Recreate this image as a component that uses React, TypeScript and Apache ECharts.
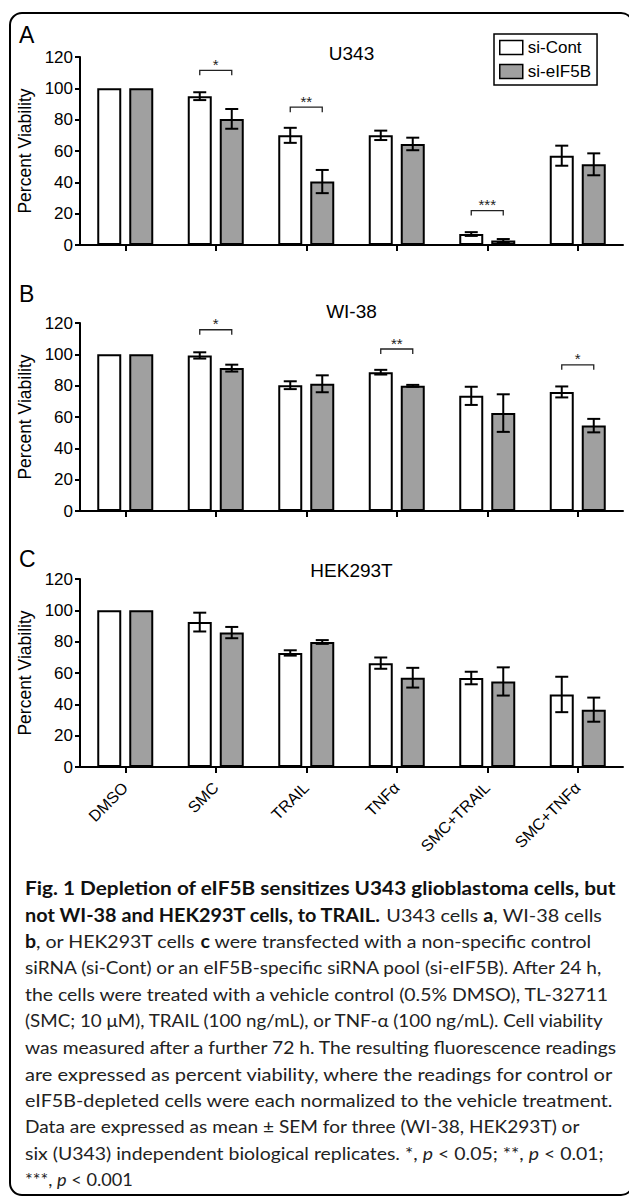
import React, { useEffect, useRef } from "react";
import * as echarts from "echarts";

// ---------- data ----------
const categories = ["DMSO", "SMC", "TRAIL", "TNFα", "SMC+TRAIL", "SMC+TNFα"];
const yTicks = [0, 20, 40, 60, 80, 100, 120];
const seriesNames = ["si-Cont", "si-eIF5B"];
const panelTitles = ["U343", "WI-38", "HEK293T"];
const panelLetters = ["A", "B", "C"];

// Panel A: U343
const u343Cont = [100, 95, 70, 70, 7, 57];
const u343ContSem = [0, 2.5, 4.8, 3, 1.2, 6.4];
const u343Eif = [100, 80.5, 40.5, 64.5, 2.8, 51.5];
const u343EifSem = [0, 6.3, 7.4, 4, 1, 7];
const u343Sig = [
  { cat: 1, y: 111.5, label: "*" },
  { cat: 2, y: 88, label: "**" },
  { cat: 4, y: 22, label: "***" },
];

// Panel B: WI-38
const wi38Cont = [100, 99.3, 80.3, 88.6, 73.5, 76];
const wi38ContSem = [0, 2, 2.5, 1.5, 5.8, 3.5];
const wi38Eif = [100, 91.2, 81.2, 79.9, 62.5, 54.5];
const wi38EifSem = [0, 2.2, 5.4, 0.6, 12, 4.3];
const wi38Sig = [
  { cat: 1, y: 115.7, label: "*" },
  { cat: 3, y: 103.4, label: "**" },
  { cat: 5, y: 93.3, label: "*" },
];

// Panel C: HEK293T
const hekCont = [100, 92.5, 72.8, 66.3, 56.8, 46.3];
const hekContSem = [0, 6, 1.7, 3.6, 4, 11.3];
const hekEif = [100, 85.8, 79.8, 57, 54.6, 36.6];
const hekEifSem = [0, 3.6, 1.2, 6.3, 9, 7.7];
const hekSig: { cat: number; y: number; label: string }[] = [];

// Caption (segments: b = bold, r = regular, i = italic)
const captionLines: [string, string][][] = [
  [["b", "Fig. 1 Depletion of eIF5B sensitizes U343 glioblastoma cells, but"]],
  [["b", "not WI-38 and HEK293T cells, to TRAIL."], ["r", " U343 cells "], ["b", "a"], ["r", ", WI-38 cells"]],
  [["b", "b"], ["r", ", or HEK293T cells "], ["b", "c"], ["r", " were transfected with a non-specific control"]],
  [["r", "siRNA (si-Cont) or an eIF5B-specific siRNA pool (si-eIF5B). After 24 h,"]],
  [["r", "the cells were treated with a vehicle control (0.5% DMSO), TL-32711"]],
  [["r", "(SMC; 10 μM), TRAIL (100 ng/mL), or TNF-α (100 ng/mL). Cell viability"]],
  [["r", "was measured after a further 72 h. The resulting fluorescence readings"]],
  [["r", "are expressed as percent viability, where the readings for control or"]],
  [["r", "eIF5B-depleted cells were each normalized to the vehicle treatment."]],
  [["r", "Data are expressed as mean ± SEM for three (WI-38, HEK293T) or"]],
  [["r", "six (U343) independent biological replicates. *, "], ["i", "p"], ["r", " < 0.05; **, "], ["i", "p"], ["r", " < 0.01;"]],
  [["r", "***, "], ["i", "p"], ["r", " < 0.001"]],
];
// right end (px) of each caption line in the figure
const captionLineEnds = [616, 602, 592, 604, 610, 606, 618, 614, 614, 580, 604, 133];

const panels = [
  { cont: u343Cont, contSem: u343ContSem, eif: u343Eif, eifSem: u343EifSem, sig: u343Sig },
  { cont: wi38Cont, contSem: wi38ContSem, eif: wi38Eif, eifSem: wi38EifSem, sig: wi38Sig },
  { cont: hekCont, contSem: hekContSem, eif: hekEif, eifSem: hekEifSem, sig: hekSig },
];

// ---------- layout ----------
const W = 629;
const H = 1197;
const FONT = "'Liberation Sans', Arial, sans-serif";
const CAP_FONT = "Lato, 'Noto Sans', sans-serif";
const gridTops = [57, 323, 579];
const letterY = [35, 294, 559];
const titleY = [55, 313, 572];
const GRID_LEFT = 80;
const GRID_W = 543;
const GRID_H = 188;
const BAR_W = 24;
const BAR_GAP_PX = 8;
const OFFSET = (BAR_W + BAR_GAP_PX) / 2;
const GRAY = "#a0a0a0";
const CAP_X = 25;

function measure(text: string, font: string): number {
  const c = document.createElement("canvas").getContext("2d");
  if (!c) return text.length * 9;
  c.font = font;
  return c.measureText(text).width;
}

function buildCaption() {
  const size = 18;
  const fontOf = (k: string) =>
    (k === "b" ? "bold " : k === "i" ? "italic " : "") + size + "px Lato";
  return captionLines.map((line, i) => {
    let w = 0;
    line.forEach(([k, t]) => {
      w += measure(t, fontOf(k));
    });
    const s = w > 0 ? (captionLineEnds[i] - CAP_X) / w : 1;
    return {
      type: "text",
      x: CAP_X,
      y: 888 + i * 26.5,
      scaleX: Math.min(1.3, Math.max(0.7, s)),
      style: {
        text: line.map(([k, t]) => `{${k}|${t}}`).join(""),
        verticalAlign: "middle",
        align: "left",
        rich: {
          b: { fontFamily: CAP_FONT, fontSize: size, fontWeight: "bold", fill: "#111" },
          r: { fontFamily: CAP_FONT, fontSize: size, fontWeight: "normal", fill: "#222" },
          i: { fontFamily: CAP_FONT, fontSize: size, fontStyle: "italic", fill: "#222" },
        },
      },
    };
  });
}

function errorSeries(gi: number, means: number[], sems: number[], dir: number) {
  const data = means
    .map((m, j) => [j, m, sems[j]])
    .filter((d) => d[2] > 0);
  return {
    type: "custom",
    xAxisIndex: gi,
    yAxisIndex: gi,
    z: 5,
    silent: true,
    data,
    renderItem: (params: any, api: any) => {
      const c = api.value(0);
      const m = api.value(1);
      const s = api.value(2);
      const x = api.coord([c, m])[0] + dir * OFFSET;
      const yT = api.coord([c, m + s])[1];
      const yB = api.coord([c, m - s])[1];
      const cap = 6.5;
      const st = { stroke: "#000", lineWidth: 2 };
      return {
        type: "group",
        children: [
          { type: "line", shape: { x1: x, y1: yT, x2: x, y2: yB }, style: st },
          { type: "line", shape: { x1: x - cap, y1: yT, x2: x + cap, y2: yT }, style: st },
          { type: "line", shape: { x1: x - cap, y1: yB, x2: x + cap, y2: yB }, style: st },
        ],
      };
    },
  };
}

function sigSeries(gi: number, sig: { cat: number; y: number; label: string }[]) {
  return {
    type: "custom",
    xAxisIndex: gi,
    yAxisIndex: gi,
    z: 6,
    silent: true,
    data: sig.map((s) => [s.cat, s.y, s.label]),
    renderItem: (params: any, api: any) => {
      const d = sig[params.dataIndex];
      const p = api.coord([d.cat, d.y]);
      const x1 = p[0] - OFFSET;
      const x2 = p[0] + OFFSET;
      const y = p[1];
      const depth = 5;
      return {
        type: "group",
        children: [
          {
            type: "polyline",
            shape: { points: [[x1, y + depth], [x1, y], [x2, y], [x2, y + depth]] },
            style: { stroke: "#222", lineWidth: 1.3, fill: "none" },
          },
          {
            type: "text",
            style: {
              text: d.label,
              x: p[0],
              y: y - 6,
              align: "center",
              verticalAlign: "middle",
              fontSize: 15,
              fontFamily: FONT,
              fill: "#222",
            },
          },
        ],
      };
    },
  };
}

function buildOption() {
  const grid = gridTops.map((t) => ({ left: GRID_LEFT, top: t, width: GRID_W, height: GRID_H }));
  const xAxis = gridTops.map((_, i) => ({
    type: "category",
    gridIndex: i,
    data: categories,
    axisLine: { show: true, lineStyle: { color: "#000", width: 2 } },
    axisTick: { show: true, alignWithLabel: true, length: 6, lineStyle: { color: "#000", width: 2 } },
    axisLabel: {
      show: i === 2,
      rotate: 45,
      interval: 0,
      margin: 18,
      fontSize: 16,
      fontFamily: FONT,
      color: "#000",
    },
    splitLine: { show: false },
  }));
  const yAxis = gridTops.map((_, i) => ({
    type: "value",
    gridIndex: i,
    min: yTicks[0],
    max: yTicks[yTicks.length - 1],
    interval: yTicks[1] - yTicks[0],
    name: "Percent Viability",
    nameLocation: "middle",
    nameGap: 41,
    nameTextStyle: { fontSize: 17.5, fontFamily: FONT, color: "#000" },
    axisLine: { show: true, lineStyle: { color: "#000", width: 2 } },
    axisTick: { show: true, length: 5, lineStyle: { color: "#000", width: 2 } },
    axisLabel: { fontSize: 17, fontFamily: FONT, color: "#000", margin: 7 },
    splitLine: { show: false },
  }));
  const series: any[] = [];
  panels.forEach((p, i) => {
    series.push({
      type: "bar",
      name: seriesNames[0],
      xAxisIndex: i,
      yAxisIndex: i,
      data: p.cont,
      barWidth: BAR_W,
      barGap: (BAR_GAP_PX / BAR_W) * 100 + "%",
      itemStyle: { color: "#fff", borderColor: "#000", borderWidth: 2 },
      silent: true,
    });
    series.push({
      type: "bar",
      name: seriesNames[1],
      xAxisIndex: i,
      yAxisIndex: i,
      data: p.eif,
      barWidth: BAR_W,
      barGap: (BAR_GAP_PX / BAR_W) * 100 + "%",
      itemStyle: { color: GRAY, borderColor: "#000", borderWidth: 2 },
      silent: true,
    });
    series.push(errorSeries(i, p.cont, p.contSem, -1));
    series.push(errorSeries(i, p.eif, p.eifSem, 1));
    if (p.sig.length) series.push(sigSeries(i, p.sig));
  });
  const title = panelTitles.map((t, i) => ({
    text: t,
    left: GRID_LEFT + GRID_W / 2,
    top: titleY[i] - 11,
    textAlign: "center",
    padding: 0,
    textStyle: { fontSize: 19, fontWeight: "normal", fontFamily: FONT, color: "#000" },
  }));
  const graphic: any[] = [
    {
      type: "rect",
      shape: { x: 10, y: 13, width: 623, height: 1182, r: 12 },
      style: { fill: "none", stroke: "#000", lineWidth: 2 },
      z: -1,
    },
    ...panelLetters.map((l, i) => ({
      type: "text",
      x: 19,
      y: letterY[i],
      style: { text: l, fontSize: 23, fontFamily: FONT, fill: "#000", verticalAlign: "middle", align: "left" },
    })),
    ...buildCaption(),
  ];
  return {
    animation: false,
    backgroundColor: "#fff",
    title,
    grid,
    xAxis,
    yAxis,
    legend: {
      left: 494,
      top: 34,
      orient: "vertical",
      selectedMode: false,
      icon: "rect",
      itemWidth: 23,
      itemHeight: 14,
      itemGap: 7,
      padding: [5, 6, 5, 5],
      backgroundColor: "#fff",
      borderColor: "#000",
      borderWidth: 1.5,
      textStyle: { fontSize: 17, fontFamily: FONT, color: "#000" },
      data: [
        { name: seriesNames[0], itemStyle: { color: "#fff", borderColor: "#000", borderWidth: 1.5 } },
        { name: seriesNames[1], itemStyle: { color: GRAY, borderColor: "#000", borderWidth: 1.5 } },
      ],
    },
    graphic,
    series,
  };
}

export default function App() {
  const ref = useRef<HTMLDivElement>(null);
  useEffect(() => {
    document.body.style.margin = "0";
    if (!ref.current) return;
    const chart = echarts.init(ref.current, undefined, { renderer: "svg" });
    chart.setOption(buildOption() as any);
    return () => chart.dispose();
  }, []);
  return <div ref={ref} style={{ width: W, height: H }} />;
}
